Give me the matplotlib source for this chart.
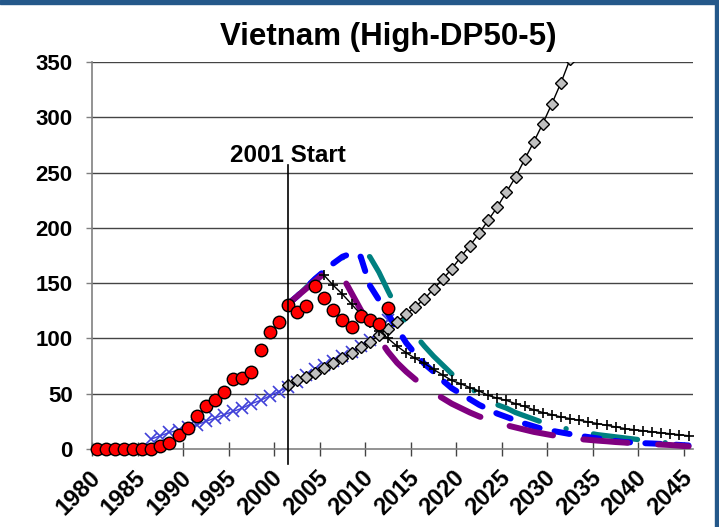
import matplotlib
matplotlib.use("Agg")
import matplotlib.pyplot as plt
from matplotlib.patches import Rectangle

plt.rcParams["font.family"] = ["Liberation Sans", "DejaVu Sans"]
plt.rcParams["font.weight"] = "bold"
plt.rcParams["lines.scale_dashes"] = False

# observed (red dots)
obs_years = list(range(1980, 2013))
observed = [0, 0, 0, 0, 0, 0, 0, 2.7, 5.7, 12.4, 19, 30, 39, 44, 52, 63, 64.5, 70,
            90, 106, 115, 130.5, 124.3, 129, 147.6, 136.5, 126, 117, 110, 120, 117, 113, 128]

# blue x series
x_years = list(range(1986, 2013))
x_series = [9, 12, 15, 17, 20, 22, 25, 28, 31, 34, 37, 41, 44, 48, 52, 56, 61, 67, 72,
            76, 80, 84, 88, 93, 99, 107, 117]

# grey diamonds
dia_years = list(range(2001, 2033))
diamonds = [58, 62, 65.5, 69, 73, 77.5, 82, 87, 92, 97, 103, 109, 115, 121.8, 128.7, 136,
            144.7, 153.7, 163, 174, 184, 195, 207, 219, 232.6, 246, 262, 277.8, 294.5,
            312.6, 331.6, 353]

# black plus series
plus_years = list(range(2005, 2046))
plus_series = [157, 148, 140, 131, 122, 114, 107, 100, 93, 87, 82, 77.5, 72, 67, 62, 59,
               55.5, 52.5, 48.5, 46, 44, 41, 38.5, 35.5, 33, 31, 29, 27.5, 26, 24.5, 23,
               21.5, 20, 18.5, 17.5, 16.5, 15.6, 14.7, 13.8, 12.9, 12]

# projections
proj_years = list(range(2001, 2046))
purple = [131, 138, 145, 152, 159, 160, 156, 141, 126, 112, 100, 88, 78, 70, 63, 57, 51,
          46, 41, 37, 33, 29.5, 26.5, 24, 21.5, 19.5, 17.5, 15.5, 14, 12.5, 11, 10, 9,
          8.3, 7.6, 7, 6.3, 5.8, 5.2, 4.8, 4.3, 4, 3.6, 3, 2.3]
blue = [131, 138, 146, 154, 161, 168, 174, 177, 174, 148, 135, 122, 109, 96, 86, 77, 70,
        62, 55, 50, 45, 40, 36, 32, 29, 26, 23, 20.5, 18, 16.5, 15, 13.5, 12, 10.8, 9.6,
        8.3, 7.2, 6.3, 5.8, 5.3, 5, 4.6, 4.2, 3.7, 3.2]
teal = [131, 138, 146, 154, 161, 168, 173, 176, 177, 174, 160, 143, 127, 114, 103, 93, 84,
        76, 68, 61, 55, 50, 45, 40, 37, 33, 30, 27, 24, 22, 19.5, 17.5, 16, 14.5, 13, 12,
        11, 10, 9, 8, 7, 6, 5.3, 4.7, 4]

label_years = list(range(1980, 2050, 5))
y_ticks = [0, 50, 100, 150, 200, 250, 300, 350]

fig = plt.figure(figsize=(7.19, 5.27), dpi=100)
ax = fig.add_axes([0.128, 0.148, 0.836, 0.734])

for v in y_ticks[1:]:
    ax.axhline(v, color="#444444", lw=1.0, zorder=0)

ax.plot(x_years, x_series, color="#4040D8", lw=1.0, marker="x", ms=8, mew=1.2, zorder=3)

ax.plot(proj_years, teal, color="#008080", lw=3.8, dashes=(32, 20, 0.1, 20),
        dash_capstyle="round", zorder=4)
ax.plot(proj_years, blue, color="#0000FF", lw=4.3, dashes=(11, 11),
        dash_capstyle="round", zorder=5)
ax.plot(proj_years, purple, color="#800080", lw=4.3, dashes=(32, 22),
        dash_capstyle="round", zorder=6)

ax.plot(dia_years, diamonds, color="black", lw=1.0, marker="D", ms=6, mfc="#C0C0C0",
        mec="black", mew=1.0, zorder=7)
ax.plot(plus_years, plus_series, color="black", lw=1.0, marker="+", ms=7, mew=1.2, zorder=7)

ax.plot(obs_years, observed, ls="none", marker="o", ms=9, mfc="#FF0000", mec="black",
        mew=1.0, zorder=8, clip_on=False)

ax.plot([2001, 2001], [-14, 257], color="black", lw=1.2, zorder=9, clip_on=False)
ax.text(2001, 260, "2001 Start", ha="center", va="baseline", fontsize=17.5, fontweight="bold")

ax.set_xlim(1979.5, 2045.5)
ax.set_ylim(0, 350)

ax.set_xticks(label_years)
ax.set_xticklabels([str(y) for y in label_years], rotation=45, ha="right", va="center",
                   rotation_mode="anchor", fontsize=17, fontweight="bold")
ax.set_xticks([y - 0.5 for y in label_years], minor=True)
ax.tick_params(axis="x", which="major", length=0, pad=18)
ax.tick_params(axis="x", which="minor", length=10, direction="inout", width=1.0, color="#444444")

ax.set_yticks(y_ticks)
ax.set_yticklabels([str(v) for v in y_ticks], fontsize=16, fontweight="bold")
ax.tick_params(axis="y", length=4.5, width=1.0, color="#808080", pad=9.5)

for side in ["top", "right"]:
    ax.spines[side].set_visible(False)
for side in ["left", "bottom"]:
    ax.spines[side].set_color("#808080")
    ax.spines[side].set_linewidth(1.2)

fig.text(0.54, 0.915, "Vietnam (High-DP50-5)", ha="center", va="baseline",
         fontsize=22.5, fontweight="bold")

# dark blue frame (top and right)
fig.patches.append(Rectangle((0, 1 - 4 / 527), 1, 4 / 527, transform=fig.transFigure,
                             color="#24588A", zorder=10))
fig.patches.append(Rectangle((1 - 4 / 719, 0), 4 / 719, 1, transform=fig.transFigure,
                             color="#24588A", zorder=10))

fig.savefig("out.png", dpi=100)
